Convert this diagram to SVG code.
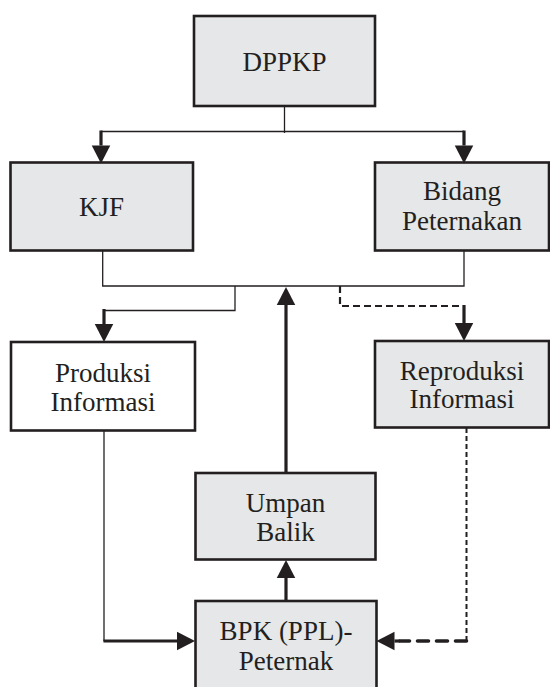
<svg xmlns="http://www.w3.org/2000/svg" width="550" height="687" viewBox="0 0 550 687">
<style>
.box{fill:#e6e7e8;stroke:#231f20;stroke-width:2.6}
.white{fill:#ffffff}
.t{font-family:"Liberation Serif","Times New Roman",serif;font-size:27px;fill:#231f20;text-anchor:middle}
.thin{fill:none;stroke:#231f20;stroke-width:1.3}
.thick{fill:none;stroke:#231f20;stroke-width:3.2}
.dash{fill:none;stroke:#231f20;stroke-width:2.2;stroke-dasharray:7 4}
.dashv{fill:none;stroke:#231f20;stroke-width:2;stroke-dasharray:5 3}
.dashthick{fill:none;stroke:#231f20;stroke-width:3.6;stroke-dasharray:11 8;stroke-linecap:round}
</style>
<defs>
<marker id="ah" markerUnits="userSpaceOnUse" markerWidth="19" markerHeight="19" refX="0" refY="9.25" orient="auto" overflow="visible">
<path d="M0,0 L18,9.25 L0,18.5 z" fill="#231f20"/>
</marker>
</defs>
<rect width="550" height="687" fill="#ffffff"/>
<g id="connectors">
<path class="thin" d="M284.5,106 V133"/>
<path class="thin" d="M101,131.5 H464"/>
<path class="thick" d="M101,130.5 V145.5" marker-end="url(#ah)"/>
<path class="thick" d="M464,130.5 V145.5" marker-end="url(#ah)"/>
<path class="thin" d="M102.7,250 V286 H464 V250"/>
<path class="thin" d="M235,286 V310.5 H103"/>
<path class="thick" d="M104,309 V324" marker-end="url(#ah)"/>
<path class="dash" d="M340,286 V306 H464"/>
<path class="thick" d="M464,305 V323" marker-end="url(#ah)"/>
<path class="thick" d="M286,473 V305" marker-end="url(#ah)"/>
<path class="thick" d="M286,601 V578" marker-end="url(#ah)"/>
<path class="thin" d="M104,430 V641"/>
<path class="thick" d="M103.4,641 H177" marker-end="url(#ah)"/>
<path class="dashv" d="M466.5,428 V641"/>
<path class="dashthick" d="M466.5,641 H400"/>
<path class="thick" d="M400,641 H394.5" marker-end="url(#ah)"/>
</g>
<g id="node-dppkp">
<rect class="box" x="194" y="16" width="181" height="90"/>
<text class="t" x="284.5" y="71">DPPKP</text>
</g>
<g id="node-kjf">
<rect class="box" x="10.5" y="162.5" width="182.5" height="88"/>
<text class="t" x="101.5" y="216">KJF</text>
</g>
<g id="node-bidang">
<rect class="box" x="375" y="162.5" width="174" height="88"/>
<text class="t" x="462" y="200">Bidang</text>
<text class="t" x="462" y="230">Peternakan</text>
</g>
<g id="node-produksi">
<rect class="box white" x="11" y="342" width="184" height="88.5"/>
<text class="t" x="103" y="382">Produksi</text>
<text class="t" x="103" y="411">Informasi</text>
</g>
<g id="node-reproduksi">
<rect class="box" x="375" y="341" width="174" height="86.5"/>
<text class="t" x="462" y="380">Reproduksi</text>
<text class="t" x="462" y="408">Informasi</text>
</g>
<g id="node-umpan">
<rect class="box" x="195.5" y="473" width="180" height="86.5"/>
<text class="t" x="285.5" y="512">Umpan</text>
<text class="t" x="285.5" y="541">Balik</text>
</g>
<g id="node-bpk">
<rect class="box" x="195.5" y="601" width="181" height="90"/>
<text class="t" x="286" y="640">BPK (PPL)-</text>
<text class="t" x="286" y="670">Peternak</text>
</g>
</svg>
